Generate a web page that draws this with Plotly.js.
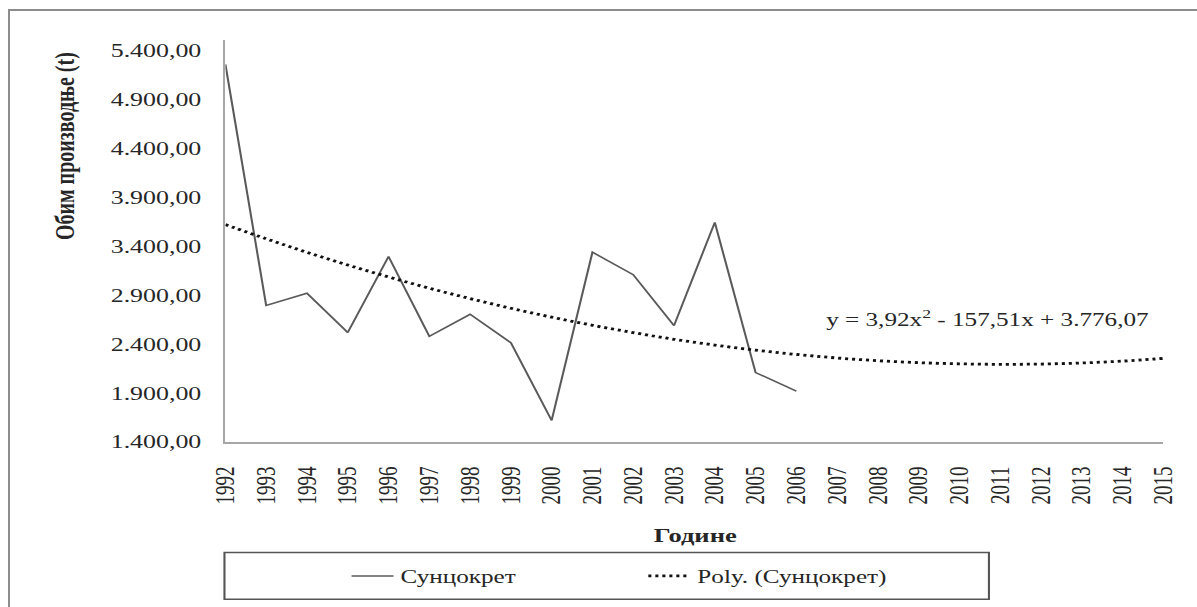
<!DOCTYPE html>
<html>
<head>
<meta charset="utf-8">
<script src="https://cdn.plot.ly/plotly-3.0.1.min.js"></script>
<style>
  html, body { margin: 0; padding: 0; background: #ffffff; overflow: hidden; width: 1197px; height: 607px; }
  #chart { position: absolute; left: 0; top: 0; width: 855px; height: 607px; transform: scaleX(1.4); transform-origin: 0 0; }
  #frame { position: absolute; left: 8px; top: 9px; width: 1400px; height: 800px; border-top: 2px solid #8c8c8c; border-left: 2px solid #8c8c8c; pointer-events: none; }
</style>
</head>
<body>
<div id="chart"></div>
<div id="frame"></div>
<script>
// Data
const years = [1992, 1993, 1994, 1995, 1996, 1997, 1998, 1999, 2000, 2001, 2002, 2003, 2004, 2005, 2006];
const sunflower = [5260, 2795, 2920, 2520, 3295, 2480, 2705, 2415, 1620, 3340, 3110, 2590, 3645, 2110, 1920];
const trendYears = [1992, 1993, 1994, 1995, 1996, 1997, 1998, 1999, 2000, 2001, 2002, 2003, 2004, 2005, 2006, 2007, 2008, 2009, 2010, 2011, 2012, 2013, 2014, 2015];
const trendValues = [3622, 3477, 3339, 3209, 3087, 2972, 2866, 2767, 2676, 2593, 2518, 2450, 2391, 2339, 2295, 2259, 2231, 2211, 2199, 2194, 2197, 2208, 2227, 2254];
const xTickLabels = ["1992","1993","1994","1995","1996","1997","1998","1999","2000","2001","2002","2003","2004","2005","2006","2007","2008","2009","2010","2011","2012","2013","2014","2015"];
const seriesName = "Сунцокрет";
const trendName = "Poly. (Сунцокрет)";
const equationText = "y = 3,92x<sup>2</sup> - 157,51x + 3.776,07";
const yTitle = "Обим производње (t)";
const xTitle = "Године";

const FONT = "Liberation Serif, Times New Roman, serif";
const TXT = "#262626";

const traces = [
  {
    x: years, y: sunflower, name: seriesName, type: "scatter", mode: "lines",
    line: { color: "#5a5a5a", width: 1.5 }
  },
  {
    x: trendYears, y: trendValues, name: trendName, type: "scatter", mode: "lines",
    line: { color: "#111111", width: 2.8, dash: "2.2px,2.8px", shape: "spline" }
  }
];

const layout = {
  width: 855, height: 607,
  margin: { l: 161.4, r: 24.3, t: 40, b: 163 },
  paper_bgcolor: "rgba(0,0,0,0)",
  plot_bgcolor: "#ffffff",
  separators: ",.",
  font: { family: FONT, color: TXT, size: 18 },
  showlegend: true,
  xaxis: {
    type: "linear", range: [1992, 2015],
    tickvals: trendYears, ticktext: xTickLabels,
    tickangle: -90, ticks: "", showgrid: false, zeroline: false,
    showline: true, linecolor: "#a6a6a6", linewidth: 2,
    tickfont: { family: FONT, size: 19, color: TXT },
    ticklabelstandoff: 15
  },
  yaxis: {
    range: [1400, 5509], tick0: 1400, dtick: 500, tickformat: ",.2f",
    ticks: "", showgrid: false, zeroline: false,
    showline: true, linecolor: "#a6a6a6", linewidth: 1.5,
    tickfont: { family: FONT, size: 18.5, color: TXT },
    ticklabelstandoff: 12
  },
  legend: {
    orientation: "h", x: 0.127, xanchor: "left", y: -0.334, yanchor: "middle",
    bgcolor: "rgba(0,0,0,0)", borderwidth: 0,
    font: { family: FONT, size: 18, color: TXT },
    entrywidth: 167, entrywidthmode: "pixels", itemwidth: 30
  },
  shapes: [
    { type: "rect", xref: "paper", yref: "paper", x0: -0.001, x1: 0.814, y0: -0.391, y1: -0.2748,
      line: { color: "#555555", width: 1.5 }, fillcolor: "rgba(0,0,0,0)", layer: "below" }
  ],
  annotations: [
    { text: yTitle, textangle: -90, xref: "paper", yref: "paper", x: -0.1708, y: 0.735,
      xanchor: "center", yanchor: "middle", showarrow: false,
      font: { family: FONT, size: 20, color: TXT, weight: "bold" } },
    { text: "<b>" + xTitle + "</b>", xref: "paper", yref: "paper", x: 0.5, y: -0.232,
      xanchor: "center", yanchor: "middle", showarrow: false,
      font: { family: FONT, size: 19, color: TXT } },
    { text: equationText, xref: "paper", yref: "paper", x: 0.637, y: 0.307,
      xanchor: "left", yanchor: "middle", showarrow: false,
      font: { family: FONT, size: 18, color: TXT } }
  ]
};

Plotly.newPlot("chart", traces, layout, { displayModeBar: false, staticPlot: true });
</script>
</body>
</html>
